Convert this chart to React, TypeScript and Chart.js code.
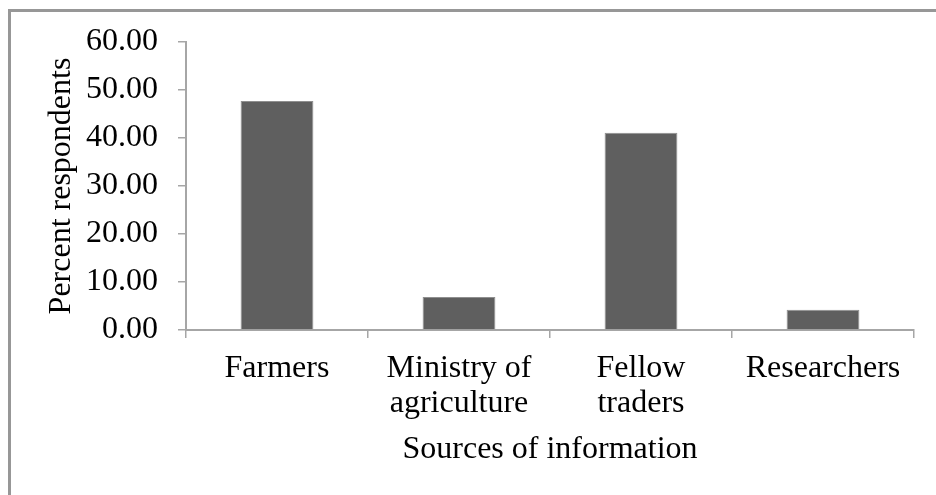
import React, { useEffect, useRef } from "react";
import { Chart, registerables } from "chart.js";

Chart.register(...registerables);

const categories: string[][] = [
  ["Farmers"],
  ["Ministry of", "agriculture"],
  ["Fellow", "traders"],
  ["Researchers"],
];
const percentRespondents: number[] = [47.7, 6.9, 41.1, 4.2];
const yMin = 0;
const yMax = 60;
const yStep = 10;
const yTitle = "Percent respondents";
const xTitle = "Sources of information";

const FONT = "'Liberation Serif', 'Times New Roman', serif";
const AXIS_GRAY = "#a6a6a6";

export default function App() {
  const canvasRef = useRef<HTMLCanvasElement | null>(null);

  useEffect(() => {
    const canvas = canvasRef.current;
    if (!canvas) return;
    const chart = new Chart(canvas, {
      type: "bar",
      data: {
        labels: categories,
        datasets: [
          {
            data: percentRespondents,
            backgroundColor: "#5f5f5f",
            borderColor: "#8f8f8f",
            borderWidth: 1,
            barPercentage: 0.4,
            categoryPercentage: 1,
          },
        ],
      },
      options: {
        responsive: false,
        animation: false,
        devicePixelRatio: 1,
        layout: { padding: { left: 0, right: 22, top: 42, bottom: 0 } },
        plugins: {
          legend: { display: false },
          tooltip: { enabled: false },
        },
        scales: {
          x: {
            grid: {
              display: true,
              drawOnChartArea: false,
              drawTicks: true,
              tickLength: 8,
              color: AXIS_GRAY,
              lineWidth: 1.5,
              offset: true,
            },
            border: { display: true, color: AXIS_GRAY, width: 2 },
            ticks: {
              color: "#000",
              padding: 13,
              maxRotation: 0,
              autoSkip: false,
              font: { family: FONT, size: 32, lineHeight: 1.1 },
            },
            title: {
              display: true,
              text: xTitle,
              color: "#000",
              font: { family: FONT, size: 32, lineHeight: 1.2 },
              padding: { top: 0, bottom: 26 },
            },
            afterFit: (scale: any) => {
              scale.height = 165;
            },
          },
          y: {
            min: yMin,
            max: yMax,
            grid: {
              display: true,
              drawOnChartArea: false,
              drawTicks: true,
              tickLength: 8,
              color: AXIS_GRAY,
              lineWidth: 1.5,
            },
            border: { display: true, color: AXIS_GRAY, width: 2 },
            ticks: {
              stepSize: yStep,
              color: "#000",
              padding: 20,
              font: { family: FONT, size: 32 },
              callback: (v: any) => Number(v).toFixed(2),
            },
            title: {
              display: true,
              text: yTitle,
              color: "#000",
              font: { family: FONT, size: 32, lineHeight: 1.2 },
              padding: { top: 42, bottom: 0 },
            },
            afterFit: (scale: any) => {
              scale.width = 186;
            },
          },
        },
      },
    });
    return () => chart.destroy();
  }, []);

  return (
    <div style={{ position: "fixed", left: 0, top: 0, width: 936, height: 495, background: "#fff" }}>
      <div
        style={{
          position: "absolute",
          left: 8,
          top: 9,
          right: 0,
          bottom: 0,
          borderLeft: "3px solid #979797",
          borderTop: "3px solid #979797",
        }}
      />
      <canvas
        ref={canvasRef}
        width={936}
        height={495}
        style={{ position: "absolute", left: 0, top: 0, width: 936, height: 495 }}
      />
    </div>
  );
}
